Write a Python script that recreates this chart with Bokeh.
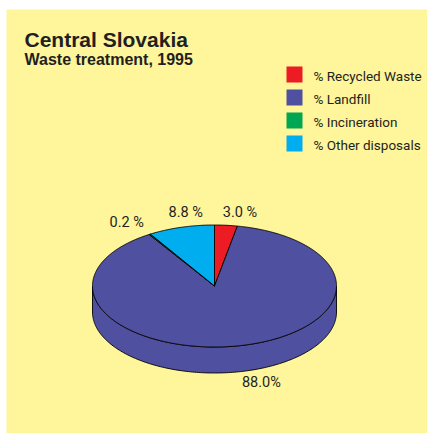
import math
from bokeh.plotting import figure
from bokeh.models import Range1d, ColumnDataSource
from bokeh.core.properties import value
from bokeh.embed import file_html
from bokeh.resources import INLINE

# ---- data ----
categories = ["% Recycled Waste", "% Landfill", "% Incineration", "% Other disposals"]
shares = [3.0, 88.0, 0.2, 8.8]
slice_labels = ["3.0 %", "88.0%", "0.2 %", "8.8 %"]
colors = ["#ED1C24", "#5050A0", "#00A651", "#00AEEF"]
title = "Central Slovakia"
subtitle = "Waste treatment, 1995"

# ---- layout ----
W, H = 427, 433
BG = "#FFF59A"
TXT = "#231F20"
CX, CY, RX, RY, DEPTH = 214, 285.5, 122, 61, 26
LABEL_OFFSETS = [(14, -12.5), (24, 37), (-23, -12), (4.5, -14.5)]
NARROW = value("Roboto, 'Liberation Sans', sans-serif")
BOLD = value("'Liberation Sans', Arial, Helvetica, sans-serif")

p = figure(width=W, height=H, output_backend="svg", toolbar_location=None,
           x_range=Range1d(0, W), y_range=Range1d(H, 0),
           x_axis_type=None, y_axis_type=None, min_border=0)
p.background_fill_color = "white"
p.border_fill_color = "white"
p.outline_line_color = None
p.grid.visible = False

# yellow panel
p.quad(left=[6], right=[W], top=[9], bottom=[H], fill_color=BG, line_color=None)


def pt(theta_deg, dy=0.0):
    t = math.radians(theta_deg)
    return CX + RX * math.sin(t), CY - RY * math.cos(t) + dy


def arc(a0, a1, dy=0.0, step=1.0):
    n = max(2, int(abs(a1 - a0) / step) + 2)
    return [pt(a0 + (a1 - a0) * i / (n - 1), dy) for i in range(n)]


total = sum(shares)
starts, ends = [], []
acc = 0.0
for s in shares:
    starts.append(acc / total * 360)
    acc += s
    ends.append(acc / total * 360)

# sides (front half: 90..270 degrees clockwise from top)
sx, sy, sc = [], [], []
for a0, a1, c in zip(starts, ends, colors):
    lo, hi = max(a0, 90), min(a1, 270)
    if hi > lo:
        pts = arc(lo, hi) + arc(hi, lo, DEPTH)
        sx.append([q[0] for q in pts])
        sy.append([q[1] for q in pts])
        sc.append(c)
p.patches("xs", "ys", source=ColumnDataSource(dict(xs=sx, ys=sy, c=sc)),
          fill_color="c", line_color="black", line_width=0.9, line_join="round")

# top faces
tx, ty = [], []
for a0, a1 in zip(starts, ends):
    pts = [(CX, CY)] + arc(a0, a1, step=0.5)
    tx.append([q[0] for q in pts])
    ty.append([q[1] for q in pts])
p.patches("xs", "ys", source=ColumnDataSource(dict(xs=tx, ys=ty, c=colors)),
          fill_color="c", line_color="black", line_width=0.9, line_join="round")

# slice labels
lx, ly = [], []
for a0, a1, off in zip(starts, ends, LABEL_OFFSETS):
    x, y = pt((a0 + a1) / 2)
    lx.append(x + off[0])
    ly.append(y + off[1])
p.text(lx, ly, text=slice_labels, text_align="center", text_baseline="middle",
       text_font=NARROW, text_font_size="14.5px", text_color=TXT)

# legend
LEG_X, LEG_Y0, LEG_DY, SQ = 294, 74, 23, 16
ly_leg = [LEG_Y0 + i * LEG_DY for i in range(len(categories))]
p.rect([LEG_X] * len(categories), ly_leg, width=SQ, height=SQ,
       fill_color=colors, line_color=None)
p.text([LEG_X + 19] * len(categories), [y + 1 for y in ly_leg], text=categories,
       text_align="left", text_baseline="middle", text_font=NARROW,
       text_font_size="13.5px", text_color=TXT)

# titles
p.text([24], [39], text=[title], text_align="left", text_baseline="alphabetic",
       text_font=BOLD, text_font_style="bold", text_font_size="21px", text_color=TXT)
p.text([24], [59], text=[subtitle], text_align="left", text_baseline="alphabetic",
       text_font=BOLD, text_font_style="bold", text_font_size="16px", text_color=TXT)

open("out.html", "w").write(file_html(p, INLINE))
